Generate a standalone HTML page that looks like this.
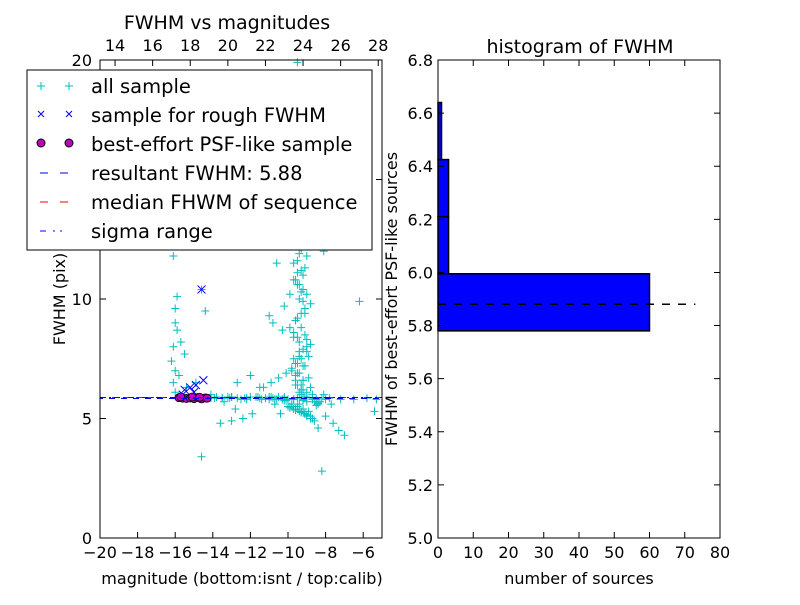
<!DOCTYPE html>
<html><head><meta charset="utf-8"><style>
body{margin:0;background:#fff;}
svg text{font-family:"DejaVu Sans","Liberation Sans",sans-serif;}
</style></head><body>
<svg id="c" width="800" height="600" xmlns="http://www.w3.org/2000/svg"></svg>
<script>
// ---- left scatter data ----
const allMag = [-16.2,-16.1,-16.0,-15.9,-16.1,-16.2,-16.0,-15.8,-16.1,-15.9,-16.0,-15.7,-15.5,-15.9,-16.1,-15.3,-14.6,-14.4,-14.9,-15.4,-16.0,-14.1,-13.8,-13.4,-12.7,-12.0,-11.5,-11.0,-10.6,-10.3,-12.4,-13.0,-13.6,-14.6,-12.8,-11.9,-10.7,-9.9,-9.6,-9.3,-9.1,-9.0,-8.8,-8.6,-8.4,-8.2,-8.0,-7.6,-7.3,-7.0,-6.2,-5.4,-8.3,-9.5,-9.8,-10.0,-10.2,-10.4,-9.7,-9.4,-9.2,-9.0,-9.3,-9.6,-9.1,-8.9,-9.4,-9.7,-9.2,-9.5,-9.0,-8.8,-9.3,-9.6,-9.9,-9.1,-9.4,-9.2,-8.9,-9.5,-9.8,-10.1,-10.5,-10.9,-11.3,-9.0,-8.7,-9.3,-9.6,-9.2,-9.4,-9.1,-9.7,-9.0,-8.8,-9.5,-10.3,-10.8,-11.0,-10.2,-9.9,-9.7,-10.6,-9.3,-9.1,-8.6,-8.3,-7.9,-7.4,-8.1,-8.8,-9.6,-10.2,-10.9,-11.6,-12.3,-13.1,-13.9,-15.8,-15.6,-15.2,-15.0,-14.5,-14.1,-13.5,-13.0,-12.2,-11.4,-10.8,-10.0,-9.2,-8.5,-7.8,-7.2,-6.5,-5.8,-5.3,-8.7,-9.0,-9.4,-9.8,-10.1,-8.4,-8.1,
 -9.5,-9.3,-9.6,-9.2,-9.4,-9.1,-9.5,-9.3,-9.7,-9.0,-9.4,-9.2,-9.6,-9.3,-9.5,-9.1,-9.4,-9.2,-9.6,-9.0,-9.3,-9.5,-9.2,-9.4,-9.7,-9.1,-9.3,-9.5,-9.0,-9.4,-9.8,-9.6,-9.2,-8.9,-9.3,-9.5,-9.1,-9.4,-9.7,-9.2,
 -13.5,-13.0,-12.5,-12.0,-11.5,-11.0,-10.5,-10.0,-9.5,-9.0,-8.5,-8.0,-13.2,-12.7,-12.2,-11.7,-11.2,-10.7,-10.2,-9.7,-9.2,-8.7,-8.2,-7.7,
 -10.0,-9.7,-9.4,-9.1,-8.8,-8.5,-9.9,-9.6,-9.3,-9.0,-8.7,-8.4,-9.8,-9.5,-9.2,-8.9,-8.6,-10.2,-10.4,-8.3];
const allFwhm = [12.3,11.8,9.0,8.7,8.0,7.4,7.0,6.8,6.5,10.1,9.6,8.2,7.7,12.9,13.3,12.7,10.4,9.5,6.5,6.3,6.1,6.0,5.9,5.7,6.5,6.8,6.3,5.9,5.8,5.8,5.0,4.9,4.8,3.4,5.4,5.2,5.6,5.5,5.4,5.3,5.2,5.1,5.0,4.9,4.6,2.8,5.1,4.8,4.5,4.3,9.9,5.3,5.7,19.9,18.5,17.0,15.8,14.2,19.4,18.0,16.9,15.6,14.8,13.7,13.2,12.4,11.9,11.5,11.0,10.6,10.2,9.8,9.4,9.1,8.8,8.5,8.2,7.9,7.6,7.3,7.1,6.9,6.7,6.5,6.3,6.1,6.0,6.2,6.4,6.6,6.9,7.2,7.5,7.8,8.1,8.4,8.7,9.0,9.3,9.7,10.2,10.8,11.5,12.1,12.9,13.7,14.5,15.2,16.0,6.0,6.3,6.6,5.9,5.9,5.9,5.85,5.85,5.85,5.9,5.85,5.85,5.9,5.85,5.85,5.85,5.9,5.85,5.8,5.85,5.8,5.8,5.8,5.85,5.8,5.8,5.85,5.8,5.85,5.7,5.6,5.5,5.75,5.6,
 12.0,11.6,11.2,10.8,10.4,10.0,9.6,9.2,8.8,8.4,8.0,7.6,7.2,6.8,6.4,12.4,11.3,10.6,9.9,9.1,8.3,7.5,6.9,6.6,7.8,8.6,9.4,10.3,11.1,11.8,12.2,7.0,7.3,6.2,6.7,6.0,6.4,5.9,6.1,5.8,
 5.9,5.85,5.9,5.8,5.9,5.85,5.8,5.9,5.8,5.85,5.9,5.8,5.8,5.9,5.85,5.8,5.9,5.85,5.8,5.85,5.8,5.75,5.8,5.85,
 5.6,5.5,5.4,5.3,5.2,5.1,5.55,5.45,5.35,5.25,5.15,5.0,5.65,5.6,5.5,5.4,5.3,5.7,5.75,5.2];
const roughMag = [-14.6,-15.5,-15.2,-14.9,-14.5,-15.0,-15.6];
const roughFwhm = [10.4,6.2,6.3,6.4,6.6,6.1,6.0];
const psfMag = [-15.8,-15.6,-15.4,-15.2,-15.0,-14.8,-14.6,-14.4,-14.3,-15.7,-15.1,-14.7];
const psfFwhm = [5.87,5.85,5.84,5.86,5.83,5.88,5.82,5.86,5.85,5.9,5.9,5.89];
const resultFwhm = 5.88;
const xTicksBottom = [-20,-18,-16,-14,-12,-10,-8,-6];
const xTicksTop = [14,16,18,20,22,24,26,28];
const yTicksL = [0,5,10,20];
// ---- histogram data ----
const binEdges = [5.78,5.995,6.21,6.425,6.64];
const binCounts = [60,3,3,1];
const xTicksR = [0,10,20,30,40,50,60,70,80];
const yTicksR = [5.0,5.2,5.4,5.6,5.8,6.0,6.2,6.4,6.6,6.8];

const svg=document.getElementById('c');const NS='http://www.w3.org/2000/svg';
function mk(t,a,p){const e=document.createElementNS(NS,t);for(const k in a)e.setAttribute(k,a[k]);(p||svg).appendChild(e);return e;}
const L={x0:100,x1:382,y0:538,y1:60};
const lx=v=>L.x0+(v+20)/15*(L.x1-L.x0);
const ltx=v=>lx(v-33.2);
const ly=v=>L.y0-v/20*(L.y0-L.y1);
const R={x0:438,x1:720,y0:538,y1:60};
const rx=v=>R.x0+v/80*(R.x1-R.x0);
const ry=v=>R.y0-(v-5)/1.8*(R.y0-R.y1);

let g=mk('g',{});
allMag.forEach((m,i)=>{const x=lx(m),y=ly(allFwhm[i]);mk('path',{d:`M${x-4},${y}H${x+4}M${x},${y-4}V${y+4}`,stroke:'#00bfbf','stroke-width':1},g);});
g=mk('g',{});
roughMag.forEach((m,i)=>{const x=lx(m),y=ly(roughFwhm[i]);mk('path',{d:`M${x-4},${y-4}L${x+4},${y+4}M${x-4},${y+4}L${x+4},${y-4}`,stroke:'#0000ff','stroke-width':1},g);});
g=mk('g',{});
psfMag.forEach((m,i)=>{mk('circle',{cx:lx(m),cy:ly(psfFwhm[i]),r:4,fill:'#bf00bf',stroke:'#000','stroke-width':0.8},g);});
let e=mk('line',{x1:L.x0,x2:L.x1,y1:ly(resultFwhm),y2:ly(resultFwhm),stroke:'#ff0000','stroke-dasharray':'6,6'});

e=mk('line',{x1:L.x0,x2:L.x1,y1:ly(resultFwhm),y2:ly(resultFwhm),stroke:'#0000ff','stroke-dasharray':'6,3,2,3'});

e=mk('line',{x1:L.x0,x2:L.x1,y1:ly(resultFwhm)+1,y2:ly(resultFwhm)+1,stroke:'#0000ff','stroke-dasharray':'6,6','stroke-dashoffset':3});

e=mk('rect',{x:L.x0,y:L.y1,width:L.x1-L.x0,height:L.y0-L.y1,fill:'none',stroke:'#000'});

xTicksBottom.forEach(v=>{const x=lx(v);mk('path',{d:`M${x},${L.y0}v-6`,stroke:'#000'});
 const t=mk('text',{x:x,y:L.y0+20,'text-anchor':'middle','font-size':16});t.textContent=v<0?'\u2212'+(-v):v;
 });
xTicksTop.forEach(v=>{const x=ltx(v);mk('path',{d:`M${x},${L.y1}v6`,stroke:'#000'});const t=mk('text',{x:x,y:L.y1-9,'text-anchor':'middle','font-size':16});t.textContent=v;
 });
yTicksL.forEach(v=>{const y=ly(v);mk('path',{d:`M${L.x0},${y}h6M${L.x1},${y}h-6`,stroke:'#000'});
 const t=mk('text',{x:L.x0-8,y:y+6,'text-anchor':'end','font-size':16});t.textContent=v;
 });
[15].forEach(v=>{const y=ly(v);mk('path',{d:`M${L.x0},${y}h6M${L.x1},${y}h-6`,stroke:'#000'});});
g=mk('g',{});
binCounts.forEach((c,i)=>{const y1=ry(binEdges[i+1]),y0=ry(binEdges[i]);mk('rect',{x:rx(0),y:y1,width:rx(c)-rx(0),height:y0-y1,fill:'#0000ff',stroke:'#000','stroke-width':1.5},g);});
e=mk('line',{x1:rx(0),x2:rx(73),y1:ry(resultFwhm),y2:ry(resultFwhm),stroke:'#000','stroke-width':1.5,'stroke-dasharray':'8,8'});

e=mk('rect',{x:R.x0,y:R.y1,width:R.x1-R.x0,height:R.y0-R.y1,fill:'none',stroke:'#000'});

xTicksR.forEach(v=>{const x=rx(v);mk('path',{d:`M${x},${R.y0}v-6M${x},${R.y1}v6`,stroke:'#000'});
 const t=mk('text',{x:x,y:R.y0+20,'text-anchor':'middle','font-size':16});t.textContent=v;
 });
yTicksR.forEach(v=>{const y=ry(v);mk('path',{d:`M${R.x0},${y}h6M${R.x1},${y}h-6`,stroke:'#000'});
 const t=mk('text',{x:R.x0-5,y:y+6,'text-anchor':'end','font-size':16});t.textContent=v.toFixed(1);
 });
</script>
<svg width="800" height="600" style="position:absolute;left:0;top:0" xmlns="http://www.w3.org/2000/svg">
<text x="227" y="29" text-anchor="middle" font-size="19">FWHM vs magnitudes</text>
<text x="580" y="53" text-anchor="middle" font-size="19">histogram of FWHM</text>
<text x="242" y="584" text-anchor="middle" font-size="16">magnitude (bottom:isnt / top:calib)</text>
<text x="579" y="584" text-anchor="middle" font-size="16">number of sources</text>
<text x="65" y="299" text-anchor="middle" font-size="16" transform="rotate(-90 65 299)">FWHM (pix)</text>
<text x="397" y="299" text-anchor="middle" font-size="16" transform="rotate(-90 397 299)">FWHM of best-effort PSF-like sources</text>
<g>
<rect x="27" y="70" width="345" height="180" fill="#fff" stroke="#000"/>
<path d="M37,86h8M41,82v8M65,86h8M69,82v8" stroke="#00bfbf"/>
<text x="91" y="93" font-size="19.5">all sample</text>
<path d="M38,111l6,6M38,117l6,-6M66,111l6,6M66,117l6,-6" stroke="#0000ff"/>
<text x="91" y="122" font-size="19.5">sample for rough FWHM</text>
<circle cx="41" cy="143" r="4" fill="#bf00bf" stroke="#000"/><circle cx="69" cy="143" r="4" fill="#bf00bf" stroke="#000"/>
<text x="91" y="151" font-size="19.5">best-effort PSF-like sample</text>
<path d="M40,173h8M60,173h8" stroke="#0000ff"/>
<text x="91" y="180" font-size="19.5">resultant FWHM: 5.88</text>
<path d="M40,202h8M60,202h8" stroke="#ff0000"/>
<text x="91" y="209" font-size="19.5">median FHWM of sequence</text>
<path d="M40,231h6M53,231h2M60,231h2" stroke="#0000ff"/>
<text x="91" y="238" font-size="19.5">sigma range</text>
</g>
</svg>
</body></html>
